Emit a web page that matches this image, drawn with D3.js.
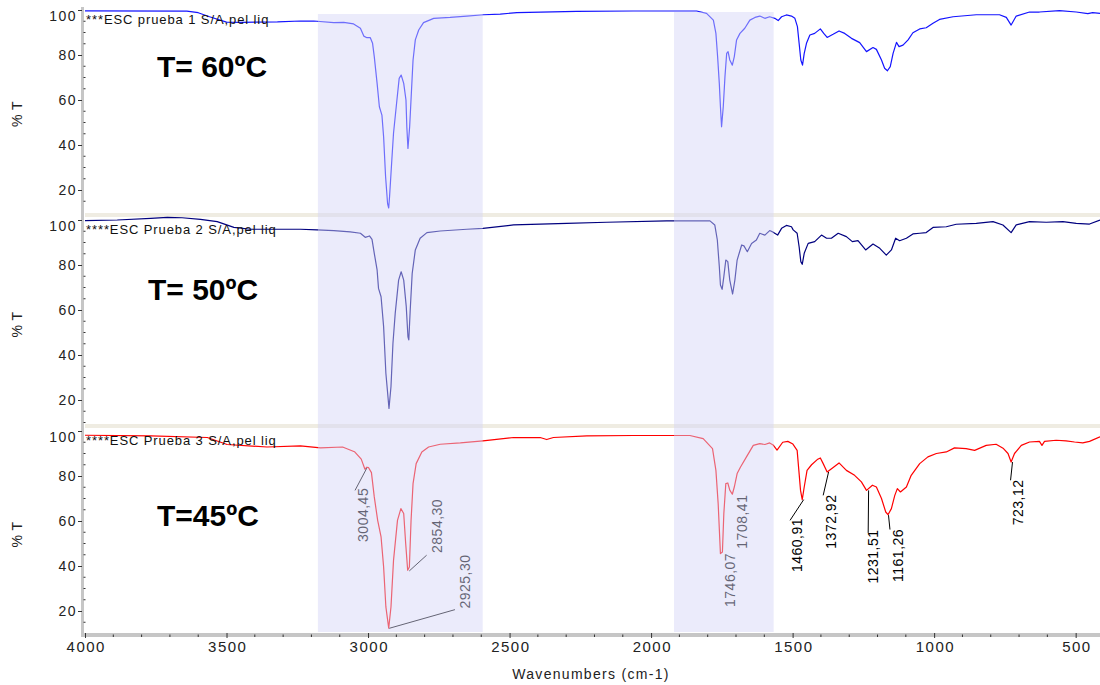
<!DOCTYPE html>
<html><head><meta charset="utf-8">
<script src="https://cdn.jsdelivr.net/npm/d3@7"></script>
<style>
body{margin:0;background:#fff}
svg{display:block;font-family:"Liberation Sans",Arial,sans-serif}
</style>
</head><body>
<svg id="c" width="1100" height="685"></svg>
<script>
// ---------------- DATA ----------------
const seriesNames = ["***ESC prueba 1 S/A,pel liq", "****ESC Prueba 2 S/A,pel liq", "****ESC Prueba 3 S/A,pel liq"];
const tempLabels = ["T= 60ºC", "T= 50ºC", "T=45ºC"];
const xTickValues = [4000, 3500, 3000, 2500, 2000, 1500, 1000, 500];
const yTickValues = [20, 40, 60, 80, 100];
const xAxisTitle = "Wavenumbers (cm-1)";
const yAxisTitle = "% T";

// T = 60 ºC (blue)
const wn60 = [4000,3640,3600,3560,3500,3450,3320,3239,3192,3121,3086,3051,3027,3015,3004,2992,2984,2978,2968,2960,2951,2945,2938,2931,2927,2924,2916,2910,2898,2890,2883,2874,2866,2863,2859,2853,2847,2841,2833,2821,2804,2768,2710,2651,2592,2533,2474,2263,2063,1839,1804,1780,1771,1765,1759,1755,1751,1745,1739,1733,1728,1722,1713,1706,1698,1686,1669,1651,1633,1616,1598,1581,1563,1551,1539,1522,1504,1492,1483,1477,1471,1465,1459,1451,1439,1422,1402,1390,1378,1357,1336,1316,1292,1263,1239,1216,1204,1186,1175,1165,1155,1145,1133,1124,1110,1092,1075,1051,1028,1004,981,933,851,769,745,728,710,663,628,557,498,457,440,414];
const t60 = [99.6,99.5,98.8,97.0,94.6,94.5,94.7,95.1,95.1,94.4,94.5,93.8,91.9,88.4,87.7,87.7,85.2,79.3,67.4,57.0,53.3,43.7,25.9,14.0,12.0,17.0,33.3,45.2,60.0,69.6,71.1,67.4,60.0,48.1,38.5,48.1,63.0,77.8,86.7,91.1,94.4,96.3,96.7,97.3,97.9,98.2,98.8,99.4,99.55,99.55,98.5,95.5,89.6,79.3,67.4,57.0,48.1,57.0,70.4,80.7,81.5,77.8,75.5,79.3,86.7,89.6,91.9,95.5,96.7,97.3,96.3,97.0,96.3,95.3,97.0,97.8,97.3,96.3,92.6,85.2,77.8,75.5,80.7,85.2,88.9,89.6,91.6,89.6,87.8,89.2,90.7,89.6,87.4,85.5,81.5,83.3,82.5,77.8,74.1,73.0,74.8,80.7,85.6,83.7,84.4,86.7,89.9,91.6,92.1,94.1,95.8,97.0,97.9,97.9,96.7,93.3,97.3,99.1,99.1,99.7,99.1,98.4,98.8,98.5];

// T = 50 ºC (navy)
const wn50 = [4000,3886,3768,3709,3657,3592,3533,3474,3415,3239,3180,3121,3063,3027,3010,2995,2986,2978,2968,2963,2954,2945,2937,2926,2919,2912,2904,2892,2883,2874,2865,2859,2856,2851,2844,2833,2816,2792,2745,2651,2594,2486,2298,2157,1945,1792,1775,1766,1759,1755,1749,1743,1736,1729,1722,1712,1704,1696,1680,1672,1660,1645,1628,1616,1598,1581,1569,1553,1539,1522,1504,1498,1484,1477,1471,1466,1459,1445,1422,1398,1380,1363,1339,1310,1289,1269,1242,1216,1192,1169,1151,1136,1122,1098,1075,1051,1028,1004,957,922,851,792,757,728,710,663,604,545,498,451,414];
const t50 = [99.7,100.0,100.7,101.2,101.0,100.3,99.3,96.7,95.9,95.9,95.6,95.3,94.7,94.1,92.3,92.9,91.4,85.2,77.8,69.6,65.9,52.6,31.9,16.3,25.9,45.2,58.5,73.3,77.0,73.3,61.5,48.1,46.7,60.0,76.3,86.7,91.9,94.4,95.1,95.9,96.3,97.8,98.5,99.0,99.6,99.6,97.8,91.1,79.3,71.1,69.2,74.8,82.2,81.5,73.3,67.1,73.3,82.2,88.9,88.5,85.9,89.6,91.1,94.1,93.3,95.3,94.6,93.3,96.3,97.6,97.0,95.6,94.1,88.1,81.5,80.3,85.2,89.6,90.4,93.3,91.9,91.9,94.1,92.6,90.4,90.8,86.7,89.3,87.4,84.4,86.7,91.9,90.8,91.9,93.8,94.1,94.4,96.7,97.0,98.1,98.5,99.3,97.8,94.4,97.8,99.3,99.0,99.3,98.5,98.2,100.0];

// T = 45 ºC (red)
const wn45 = [4000,3768,3568,3498,3357,3239,3168,3090,3048,3024,3011,3004,2998,2988,2978,2966,2954,2945,2937,2927,2919,2910,2896,2884,2874,2867,2860,2854,2848,2841,2830,2810,2786,2745,2674,2594,2486,2392,2369,2345,2227,2063,1863,1816,1783,1771,1763,1755,1748,1743,1736,1729,1722,1713,1706,1696,1684,1663,1639,1616,1598,1581,1569,1555,1535,1517,1499,1484,1478,1472,1466,1459,1449,1433,1413,1402,1392,1378,1359,1336,1310,1281,1257,1239,1218,1204,1186,1171,1163,1151,1139,1130,1119,1098,1081,1051,1022,992,957,928,887,857,816,781,755,739,728,716,692,663,628,619,610,569,534,504,475,451,414];
const t45 = [98.1,97.8,97.1,94.0,92.9,93.4,92.5,92.9,90.8,87.5,83.0,83.9,83.7,81.5,70.7,60.3,52.9,39.6,21.8,12.4,21.8,42.5,60.3,65.5,63.3,50.0,38.1,39.6,60.3,76.6,85.5,90.7,92.9,94.1,94.7,95.6,97.1,97.1,96.2,97.1,97.8,98.0,98.0,96.6,92.2,82.5,67.7,45.5,46.2,63.3,76.6,76.9,73.7,71.9,75.1,81.1,84.0,88.5,93.6,94.4,94.0,94.7,93.8,91.5,95.0,95.4,94.2,91.4,82.5,73.6,69.5,75.1,82.5,85.0,87.3,88.0,85.5,81.8,83.6,85.8,82.5,80.3,77.4,73.6,75.9,75.1,70.0,64.0,62.8,65.5,71.4,74.4,72.9,75.1,80.3,85.5,88.5,90.0,90.7,92.5,92.2,91.4,93.6,94.1,92.2,90.0,86.2,90.0,93.6,95.1,95.4,93.6,95.4,95.9,95.6,95.1,94.7,95.4,97.4];

// Peak annotations (bottom spectrum)
const peakLabels = ["3004,45","2925,30","2854,30","1746,07","1708,41","1460,91","1372,92","1231,51","1161,26","723,12"];
const peakT = [83.5, 12.3, 37.8, 45.5, 71.9, 69.5, 81.8, 73.6, 62.6, 86.2];

// Shaded wavenumber regions
const shadeFrom = [3177, 1919];
const shadeTo = [2595, 1567];

// ---------------- LAYOUT ----------------
const labelAnchorWn = [3017, 2657, 2757, 1721, 1680, 1486, 1366, 1215, 1127, 703];
const labelAnchorT  = [50.7, 21.1, 45.8, 21.8, 47.7, 37.3, 47.7, 32.2, 32.9, 58.1];
const leaderWn = [3046, 2693, 2793, null, null, 1509, 1392, 1233, 1156, 730];
const leaderT  = [73.6, 20.6, 44.8, null, null, 60.3, 71.4, 54.7, 56.2, 78.1];
const panelTop = [7, 217, 428];
const panelBottom = [213, 424, 633];
const tempPos = [[157, 77], [148, 300], [157, 526]];
const colors = ["#1414ff", "#00007f", "#ff0000"];

const svg = d3.select("#c");
const x = d3.scaleLinear().domain([4000, 414]).range([85, 1100]);
const ys = panelTop.map(t => d3.scaleLinear().domain([20, 100]).range([t + 183, t + 3]));
const series = [[wn60, t60], [wn50, t50], [wn45, t45]];

svg.append("rect").attr("width", 1100).attr("height", 685).attr("fill", "#fff");

// separators between panels
[0, 1].forEach(i => {
  svg.append("rect").attr("x", 85).attr("width", 1015)
    .attr("y", panelBottom[i]).attr("height", panelTop[i + 1] - panelBottom[i])
    .attr("fill", "#efece2");
});

// axis bands
svg.append("rect").attr("x", 81).attr("y", 7).attr("width", 3).attr("height", 630).attr("fill", "#c6c6c6");
svg.append("rect").attr("x", 81).attr("y", 633).attr("width", 1019).attr("height", 4).attr("fill", "#c6c6c6");

// y axes
ys.forEach((y, i) => {
  const g = svg.append("g").attr("transform", "translate(82,0)")
    .call(d3.axisLeft(y).tickValues(yTickValues).tickSize(4).tickPadding(1))
    .call(g => g.select(".domain").remove());
  g.selectAll(".tick line").attr("stroke", "#333");
  g.selectAll(".tick text")
    .style("font-size", "14px").style("letter-spacing", "1.5px")
    .attr("font-family", null).attr("fill", "#222")
    .attr("dy", d => d === 100 ? "0.72em" : "0.33em");
  const minors = d3.range(10, 101, 5).filter(v => v % 20 !== 0 && y(v) < panelBottom[i] - 1 && y(v) > panelTop[i]);
  svg.append("g").selectAll("line").data(minors).join("line")
    .attr("x1", 83.5).attr("x2", 85.5).attr("y1", d => y(d)).attr("y2", d => y(d))
    .attr("stroke", "#333").attr("stroke-width", 1);
  svg.append("text")
    .attr("transform", `translate(22,${(panelTop[i] + panelBottom[i]) / 2 + 4}) rotate(-90)`)
    .attr("text-anchor", "middle").style("font-size", "14px").style("letter-spacing", "0.5px").attr("fill", "#222")
    .text(yAxisTitle);
});

// x axis
const gx = svg.append("g").attr("transform", "translate(0,633)")
  .call(d3.axisBottom(x).tickValues(xTickValues).tickSize(5).tickPadding(3).tickFormat(d3.format("d")))
  .call(g => g.select(".domain").remove());
gx.selectAll(".tick line").attr("stroke", "#333");
gx.selectAll(".tick text").style("font-size", "15px").style("letter-spacing", "1.5px")
  .attr("font-family", null).attr("fill", "#222").attr("dx", "0.75px");
const xMinor = d3.range(3900, 414, -100).filter(v => v % 500 !== 0);
svg.append("g").selectAll("line").data(xMinor).join("line")
  .attr("x1", d => x(d)).attr("x2", d => x(d)).attr("y1", 634.5).attr("y2", 637)
  .attr("stroke", "#333");
svg.append("text").attr("x", 591).attr("y", 679).attr("text-anchor", "middle")
  .style("font-size", "14px").style("letter-spacing", "1.3px").attr("fill", "#222")
  .text(xAxisTitle);

// spectra
series.forEach(([wn, t], i) => {
  const pts = wn.map((w, k) => [w, t[k]]);
  const line = d3.line().x(d => x(d[0])).y(d => ys[i](d[1]));
  svg.append("path").datum(pts).attr("d", line)
    .attr("fill", "none").attr("stroke", colors[i]).attr("stroke-width", 1.2)
    .attr("stroke-linejoin", "round");
  svg.append("text").attr("x", 86).attr("y", panelTop[i] + 17)
    .style("font-size", "13px").style("letter-spacing", "0.9px").attr("fill", "#111")
    .text(seriesNames[i]);
  svg.append("text").attr("x", tempPos[i][0]).attr("y", tempPos[i][1])
    .style("font-size", "30px").style("font-weight", "bold").attr("fill", "#000")
    .text(tempLabels[i]);
});

// annotations on bottom spectrum
const y3 = ys[2];
peakLabels.forEach((lab, k) => {
  const pw = parseFloat(lab.replace(",", "."));
  if (leaderWn[k] !== null) {
    svg.append("line")
      .attr("x1", x(pw)).attr("y1", y3(peakT[k]))
      .attr("x2", x(leaderWn[k])).attr("y2", y3(leaderT[k]))
      .attr("stroke", "#000").attr("stroke-width", 1);
  }
  svg.append("text")
    .attr("transform", `translate(${x(labelAnchorWn[k])},${y3(labelAnchorT[k])}) rotate(-90)`)
    .attr("dy", "0.36em")
    .style("font-size", "14px").style("letter-spacing", "0.5px").attr("fill", "#000")
    .text(lab);
});

// translucent highlight bands (drawn on top)
shadeFrom.forEach((f, k) => {
  svg.append("rect")
    .attr("x", x(f)).attr("width", x(shadeTo[k]) - x(f))
    .attr("y", k === 0 ? 14 : 12).attr("height", k === 0 ? 618 : 620)
    .attr("fill", "rgb(213,213,247)").attr("fill-opacity", 0.47);
});
</script>
</body></html>
